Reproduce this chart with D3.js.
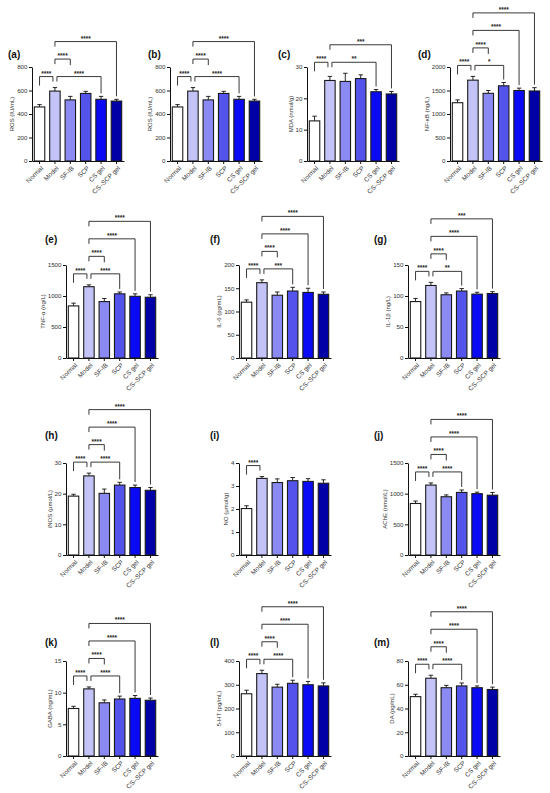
<!DOCTYPE html>
<html>
<head>
<meta charset="utf-8">
<script src="https://cdn.jsdelivr.net/npm/d3@7"></script>
<style>
  body { margin: 0; background: #fff; }
  svg { font-family: "Liberation Sans", Arial, sans-serif; }
  .tick text { fill: #333; }
  .ylab { font-size: 6px; fill: #333; text-anchor: middle; }
  .plab { font-size: 10px; font-weight: bold; fill: #111; }
  .sig { font-size: 6.5px; font-weight: bold; fill: #222; text-anchor: middle; }
</style>
</head>
<body>
<svg width="550" height="793"></svg>
<script>
// groups and colours
var groups = ["Normal", "Model", "SF-IB", "SCP", "CS gel", "CS\u2013SCP gel"];
var barColors = ["#ffffff", "#c3c3f7", "#8a8af2", "#5454ec", "#0a0af5", "#0000a6"];

// significance brackets: [from, to, stars, level]
var stdSig = [[0, 1, "****", 1], [1, 3, "****", 1], [1, 2, "****", 2], [1, 4, "****", 3], [1, 5, "****", 4]];

var rosMean = [460, 595, 520, 575, 525, 510];
var rosErr = [20, 30, 30, 18, 25, 15];
var rosTicks = [0, 200, 400, 600, 800];
var rosSig = [[0, 1, "****", 1], [1, 4, "****", 1], [1, 2, "****", 2], [1, 5, "****", 3]];

var mdaMean = [12.8, 25.7, 25.4, 26.3, 22.1, 21.4];
var mdaErr = [1.5, 1.3, 2.6, 1.2, 0.7, 0.8];
var mdaTicks = [0, 10, 20, 30];
var mdaSig = [[0, 1, "****", 1], [1, 4, "**", 1], [1, 5, "***", 2]];

var nfkbMean = [1240, 1720, 1440, 1600, 1500, 1490];
var nfkbErr = [60, 80, 60, 70, 50, 70];
var nfkbTicks = [0, 500, 1000, 1500, 2000];
var nfkbSig = [[0, 1, "****", 1], [1, 3, "*", 1], [1, 2, "****", 2], [1, 4, "****", 3], [1, 5, "****", 4]];

var tnfMean = [840, 1150, 910, 1035, 995, 980];
var tnfErr = [45, 30, 50, 30, 40, 40];
var tnfTicks = [0, 500, 1000, 1500];

var il6Mean = [120, 162, 135, 144, 141, 137];
var il6Err = [5, 6, 7, 8, 9, 5];
var il6Ticks = [0, 50, 100, 150, 200];
var il6Sig = [[0, 1, "****", 1], [1, 3, "***", 1], [1, 2, "****", 2], [1, 4, "****", 3], [1, 5, "****", 4]];

var il1Mean = [91, 117, 102, 108, 103, 104];
var il1Err = [5, 5, 3, 4, 3, 3];
var il1Ticks = [0, 50, 100, 150];
var il1Sig = [[0, 1, "****", 1], [1, 3, "**", 1], [1, 2, "****", 2], [1, 4, "****", 3], [1, 5, "***", 4]];

var inosMean = [19.2, 25.8, 20.1, 22.8, 22.0, 21.1];
var inosErr = [0.6, 0.9, 1.4, 0.9, 0.8, 0.9];
var inosTicks = [0, 10, 20, 30];

var noMean = [2.02, 3.33, 3.15, 3.23, 3.2, 3.12];
var noErr = [0.12, 0.08, 0.16, 0.14, 0.12, 0.15];
var noTicks = [0, 1, 2, 3, 4];
var noSig = [[0, 1, "****", 1]];

var acheMean = [840, 1140, 950, 1020, 1000, 975];
var acheErr = [40, 35, 30, 40, 25, 45];
var acheTicks = [0, 500, 1000, 1500];

var gabaMean = [7.5, 10.6, 8.4, 9.0, 9.1, 8.8];
var gabaErr = [0.35, 0.3, 0.45, 0.45, 0.45, 0.35];
var gabaTicks = [0, 5, 10, 15];

var htMean = [262, 347, 290, 306, 300, 295];
var htErr = [15, 14, 12, 13, 14, 13];
var htTicks = [0, 100, 200, 300, 400];

var daMean = [50, 65.5, 57.5, 59, 57.5, 56];
var daErr = [2, 2.5, 2, 2.5, 1.5, 2];
var daTicks = [0, 20, 40, 60, 80];

var panels = [
  { tag: "(a)", label: "ROS (IU/mL)", mean: rosMean, err: rosErr, ticks: rosTicks, sig: rosSig },
  { tag: "(b)", label: "ROS (IU/mL)", mean: rosMean, err: rosErr, ticks: rosTicks, sig: rosSig },
  { tag: "(c)", label: "MDA (nmol/g)", mean: mdaMean, err: mdaErr, ticks: mdaTicks, sig: mdaSig },
  { tag: "(d)", label: "NF-\u03baB (ng/L)", mean: nfkbMean, err: nfkbErr, ticks: nfkbTicks, sig: nfkbSig },
  { tag: "(e)", label: "TNF-\u03b1 (ng/L)", mean: tnfMean, err: tnfErr, ticks: tnfTicks, sig: stdSig },
  { tag: "(f)", label: "IL-6 (pg/mL)", mean: il6Mean, err: il6Err, ticks: il6Ticks, sig: il6Sig },
  { tag: "(g)", label: "IL-1\u03b2 (ng/L)", mean: il1Mean, err: il1Err, ticks: il1Ticks, sig: il1Sig },
  { tag: "(h)", label: "iNOS (\u03bcmol/L)", mean: inosMean, err: inosErr, ticks: inosTicks, sig: stdSig },
  { tag: "(i)", label: "NO (\u03bcmol/g)", mean: noMean, err: noErr, ticks: noTicks, sig: noSig },
  { tag: "(j)", label: "AChE (nmol/L)", mean: acheMean, err: acheErr, ticks: acheTicks, sig: stdSig },
  { tag: "(k)", label: "GABA (ng/mL)", mean: gabaMean, err: gabaErr, ticks: gabaTicks, sig: stdSig },
  { tag: "(l)", label: "5-HT (pg/mL)", mean: htMean, err: htErr, ticks: htTicks, sig: stdSig },
  { tag: "(m)", label: "DA (pg/mL)", mean: daMean, err: daErr, ticks: daTicks, sig: stdSig }
];

// layout
var svg = d3.select("svg");
var PW = 92;
var row1 = { ax: [32, 170, 307, 450], lx: [8, 148, 278, 418], top: 67, zero: 161, ly: 58 };
var rowsN = [
  { top: 265, zero: 358, ly: 243 },
  { top: 463, zero: 555, ly: 439 },
  { top: 661, zero: 756, ly: 646 }
];
var colN = { ax: [66, 239, 408], lx: [45, 210, 374] };

panels.forEach(function(p, k) {
  var pos;
  if (k < 4) {
    pos = { ax: row1.ax[k], lx: row1.lx[k], top: row1.top, zero: row1.zero, ly: row1.ly };
  } else {
    var r = rowsN[Math.floor((k - 4) / 3)], c = (k - 4) % 3;
    pos = { ax: colN.ax[c], lx: colN.lx[c], top: r.top, zero: r.zero, ly: r.ly };
  }
  drawPanel(p, pos);
});

function drawPanel(p, pos) {
  svg.append("text").attr("class", "plab").attr("x", pos.lx).attr("y", pos.ly).text(p.tag);

  var g = svg.append("g").attr("transform", "translate(" + pos.ax + ",0)");
  var x = d3.scaleBand().domain(groups).range([0, PW]).paddingInner(0.32).paddingOuter(0.15);
  var y = d3.scaleLinear().domain([0, d3.max(p.ticks)]).range([pos.zero, pos.top]);
  var cx = function(i) { return x(groups[i]) + x.bandwidth() / 2; };
  var topOf = function(i) { return y(p.mean[i] + p.err[i]); };

  // error bars (upper only)
  var eb = g.append("g").attr("stroke", "#111").attr("stroke-width", 0.9);
  p.mean.forEach(function(m, i) {
    eb.append("line").attr("x1", cx(i)).attr("x2", cx(i)).attr("y1", y(m)).attr("y2", topOf(i));
    eb.append("line").attr("x1", cx(i) - 2.2).attr("x2", cx(i) + 2.2).attr("y1", topOf(i)).attr("y2", topOf(i));
  });

  g.selectAll("rect.bar").data(p.mean).join("rect")
    .attr("class", "bar")
    .attr("x", function(d, i) { return x(groups[i]); })
    .attr("y", function(d) { return y(d); })
    .attr("width", x.bandwidth())
    .attr("height", function(d) { return pos.zero - y(d); })
    .attr("fill", function(d, i) { return barColors[i]; })
    .attr("stroke", "#1a1a1a")
    .attr("stroke-width", 1.1);

  var yAxis = g.append("g")
    .call(d3.axisLeft(y).tickValues(p.ticks).tickFormat(d3.format("d"))
      .tickSize(3).tickSizeOuter(0).tickPadding(1.5));
  yAxis.selectAll("text").style("font-size", "6.2px");
  yAxis.selectAll("line, path").attr("stroke", "#111").attr("stroke-width", 1);

  var xAxis = g.append("g").attr("transform", "translate(0," + pos.zero + ")")
    .call(d3.axisBottom(x).tickSize(3).tickSizeOuter(0));
  xAxis.selectAll("line, path").attr("stroke", "#111").attr("stroke-width", 1);
  xAxis.selectAll("text")
    .style("font-size", "6.5px")
    .style("text-anchor", "end")
    .attr("x", 0).attr("y", 0).attr("dy", "0.35em")
    .attr("transform", "translate(2.5,6) rotate(-45)");

  var bb = yAxis.node().getBBox();
  g.append("text").attr("class", "ylab")
    .attr("transform", "translate(" + (bb.x - 3) + "," + ((pos.top + pos.zero) / 2) + ") rotate(-90)")
    .text(p.label);

  // brackets
  var lvl1 = p.sig.filter(function(s) { return s[3] === 1; });
  var base = d3.min(lvl1, function(s) {
    return d3.min(d3.range(s[0], s[1] + 1), topOf);
  }) - 11;
  var levelY = function(l) { return base - (l - 1) * 17.5; };
  var hasLow = p.sig.some(function(s) { return s[0] === 0 && s[3] === 1; });

  var bg = g.append("g").attr("fill", "none").attr("stroke", "#222").attr("stroke-width", 0.9);
  p.sig.forEach(function(s) {
    var a = s[0], b = s[1], ly = levelY(s[3]);
    var xa = cx(a), xb = cx(b);
    if (a === 0) xb -= 2;
    else if (s[3] === 1 && hasLow) xa += 2;
    // leg bottoms
    var legA = a === 1 ? ly + 5 : ly + 9;
    var legB;
    if (b === 1) legB = ly + 5;
    else {
      var spanned = p.sig.some(function(o) { return o[3] < s[3] && o[0] < b && o[1] >= b; });
      legB = spanned ? ly + 6 : Math.max(ly + 6, topOf(b) - 3);
    }
    bg.append("path").attr("d", "M" + xa + "," + legA + "V" + ly + "H" + xb + "V" + legB);
    g.append("text").attr("class", "sig").attr("x", (xa + xb) / 2).attr("y", ly - 1).text(s[2]);
  });
}
</script>
</body>
</html>
